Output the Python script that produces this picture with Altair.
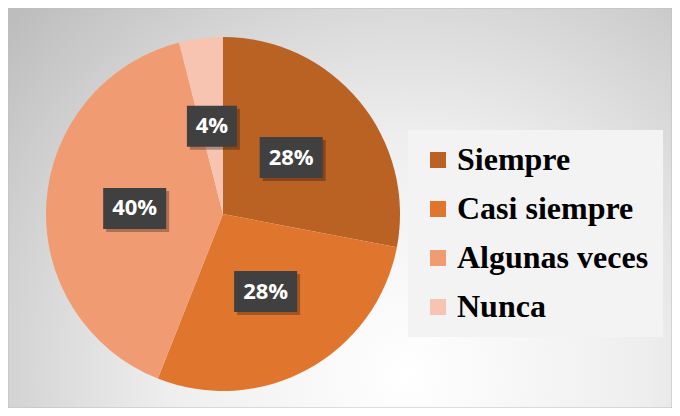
import altair as alt
import pandas as pd

# ---- data ----
categories = ["Siempre", "Casi siempre", "Algunas veces", "Nunca"]
values = [28, 28, 40, 4]
colors = ["#BA6124", "#E0762E", "#F19B72", "#F6C4B1"]

df = pd.DataFrame({"cat": categories, "val": values, "idx": list(range(len(categories)))})

# ---- layout (styling only) ----
W, H = 664, 400
CX, CY, R = 215, 206, 177

xs = alt.Scale(domain=[-CX / R, (W - CX) / R], nice=False, zero=False)
ys = alt.Scale(domain=[-(H - CY) / R, CY / R], nice=False, zero=False)

base = (
    alt.Chart(df)
    .transform_joinaggregate(total="sum(val)")
    .transform_window(cum="sum(val)", sort=[alt.SortField("idx")], frame=[None, 0])
    .transform_calculate(share="datum.val / datum.total")
    .transform_calculate(mid="(datum.cum - datum.val / 2) / datum.total * 2 * PI")
    .transform_calculate(lx="0.5 * sin(datum.mid)")
    .transform_calculate(ly="0.5 * cos(datum.mid)")
    .transform_calculate(label="format(datum.share, '.0%')")
    .transform_calculate(hw=f"(6.5 * length(datum.label) + 12) / {R}")
    .transform_calculate(hh=f"20.5 / {R}")
    .transform_calculate(x0="datum.lx - datum.hw")
    .transform_calculate(x1="datum.lx + datum.hw")
    .transform_calculate(y0="datum.ly - datum.hh")
    .transform_calculate(y1="datum.ly + datum.hh")
)

bg = alt.Chart(alt.Data(values=[{}])).mark_rect(
    fill={
        "gradient": "radial",
        "x1": 0.6, "y1": 0.75, "r1": 0,
        "x2": 0.6, "y2": 0.75, "r2": 0.8,
        "stops": [
            {"offset": 0, "color": "#FFFFFF"},
            {"offset": 0.45, "color": "#EEEEEE"},
            {"offset": 1, "color": "#BDBDBD"},
        ],
    },
    stroke="#BFBFBF",
    strokeWidth=1,
).encode(x=alt.value(0), x2=alt.value(W), y=alt.value(0), y2=alt.value(H))

pie = base.mark_arc(radius=R).encode(
    theta=alt.Theta("val:Q", stack=True),
    color=alt.Color(
        "cat:N",
        scale=alt.Scale(domain=categories, range=colors),
        sort=categories,
        legend=alt.Legend(
            title=None,
            orient="none",
            legendX=400,
            legendY=122,
            symbolType="square",
            symbolSize=256,
            symbolStrokeWidth=0,
            labelFont="Liberation Serif",
            labelFontSize=32,
            labelFontWeight="bold",
            labelColor="black",
            labelOffset=3,
            labelLimit=0,
            rowPadding=17,
            padding=14,
            fillColor="#F3F3F3",
        ),
    ),
    order=alt.Order("idx:Q"),
    x=alt.value(CX),
    y=alt.value(CY),
)

shadow = base.mark_rect(
    color="black", opacity=0.28, xOffset=3, x2Offset=3, yOffset=3, y2Offset=3
).encode(
    x=alt.X("x0:Q", scale=xs, axis=None),
    x2="x1:Q",
    y=alt.Y("y0:Q", scale=ys, axis=None),
    y2="y1:Q",
)

box = base.mark_rect(color="#404040").encode(
    x=alt.X("x0:Q", scale=xs, axis=None),
    x2="x1:Q",
    y=alt.Y("y0:Q", scale=ys, axis=None),
    y2="y1:Q",
)

txt = base.mark_text(
    font="Open Sans", fontSize=22, fontWeight="bold", color="white"
).encode(
    x=alt.X("lx:Q", scale=xs, axis=None),
    y=alt.Y("ly:Q", scale=ys, axis=None),
    text="label:N",
)

chart = (
    alt.layer(bg, pie, shadow, box, txt)
    .properties(width=W, height=H, autosize=alt.AutoSizeParams(type="none"), padding=0)
    .configure_view(stroke=None)
)

chart.save("out.html", embed_options={"renderer": "svg", "actions": False})
